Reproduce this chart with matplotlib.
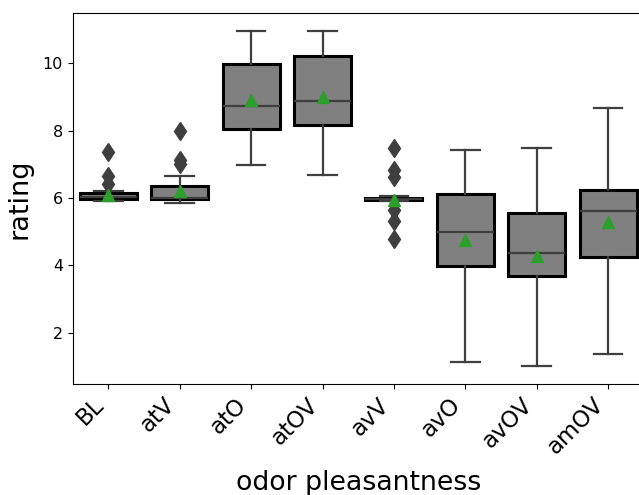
import matplotlib
matplotlib.use("Agg")
import matplotlib.pyplot as plt

categories = ["BL", "atV", "atO", "atOV", "avV", "avO", "avOV", "amOV"]
q1 = [5.96, 5.97, 8.04, 8.17, 5.93, 3.98, 3.67, 4.25]
med = [6.03, 6.00, 8.73, 8.87, 5.96, 5.00, 4.37, 5.61]
q3 = [6.16, 6.35, 9.99, 10.22, 6.00, 6.13, 5.55, 6.25]
whislo = [5.90, 5.86, 6.99, 6.67, 5.90, 1.12, 1.00, 1.37]
whishi = [6.20, 6.65, 10.97, 10.97, 6.05, 7.42, 7.48, 8.67]
means = [6.08, 6.20, 8.92, 9.00, 5.93, 4.76, 4.29, 5.28]
fliers = [
    [7.36, 6.65, 6.42],
    [7.98, 7.14, 7.02],
    [],
    [],
    [7.48, 6.82, 6.62, 5.65, 5.33, 4.79],
    [],
    [],
    [],
]

stats = []
for i, c in enumerate(categories):
    stats.append(dict(label=c, q1=q1[i], med=med[i], q3=q3[i],
                      whislo=whislo[i], whishi=whishi[i],
                      mean=means[i], fliers=fliers[i]))

W, H = 639, 495
fig = plt.figure(figsize=(W / 100, H / 100), dpi=100)
left, right, top, bottom = 72.6, 643.8, 13.3, 383.7
ax = fig.add_axes([left / W, (H - bottom) / H, (right - left) / W, (bottom - top) / H])

line_gray = "#3f3f3f"
ax.bxp(stats, positions=range(len(categories)), widths=0.8, patch_artist=True,
       showmeans=True, showfliers=True,
       boxprops=dict(facecolor="#808080", edgecolor="black", linewidth=2.2),
       whiskerprops=dict(color=line_gray, linewidth=1.6),
       capprops=dict(color=line_gray, linewidth=1.6),
       medianprops=dict(color=line_gray, linewidth=1.6),
       meanprops=dict(marker="^", markerfacecolor="#2ca02c", markeredgecolor="#2ca02c", markersize=8),
       flierprops=dict(marker="d", markerfacecolor=line_gray, markeredgecolor=line_gray, markersize=9.5))

ax.set_xlim(-0.5, len(categories) - 0.5)
ax.set_ylim(0.486, 11.485)
ax.set_yticks([2, 4, 6, 8, 10])
ax.set_xticks(range(len(categories)))
ax.set_xticklabels(categories, rotation=45, fontsize=16.5, ha="right")
ax.tick_params(axis="y", labelsize=11.5)
ax.set_xlabel("odor pleasantness", fontsize=19.3, labelpad=8)
ax.set_ylabel("rating", fontsize=19.5, labelpad=7)

fig.savefig("out.png", dpi=100)
